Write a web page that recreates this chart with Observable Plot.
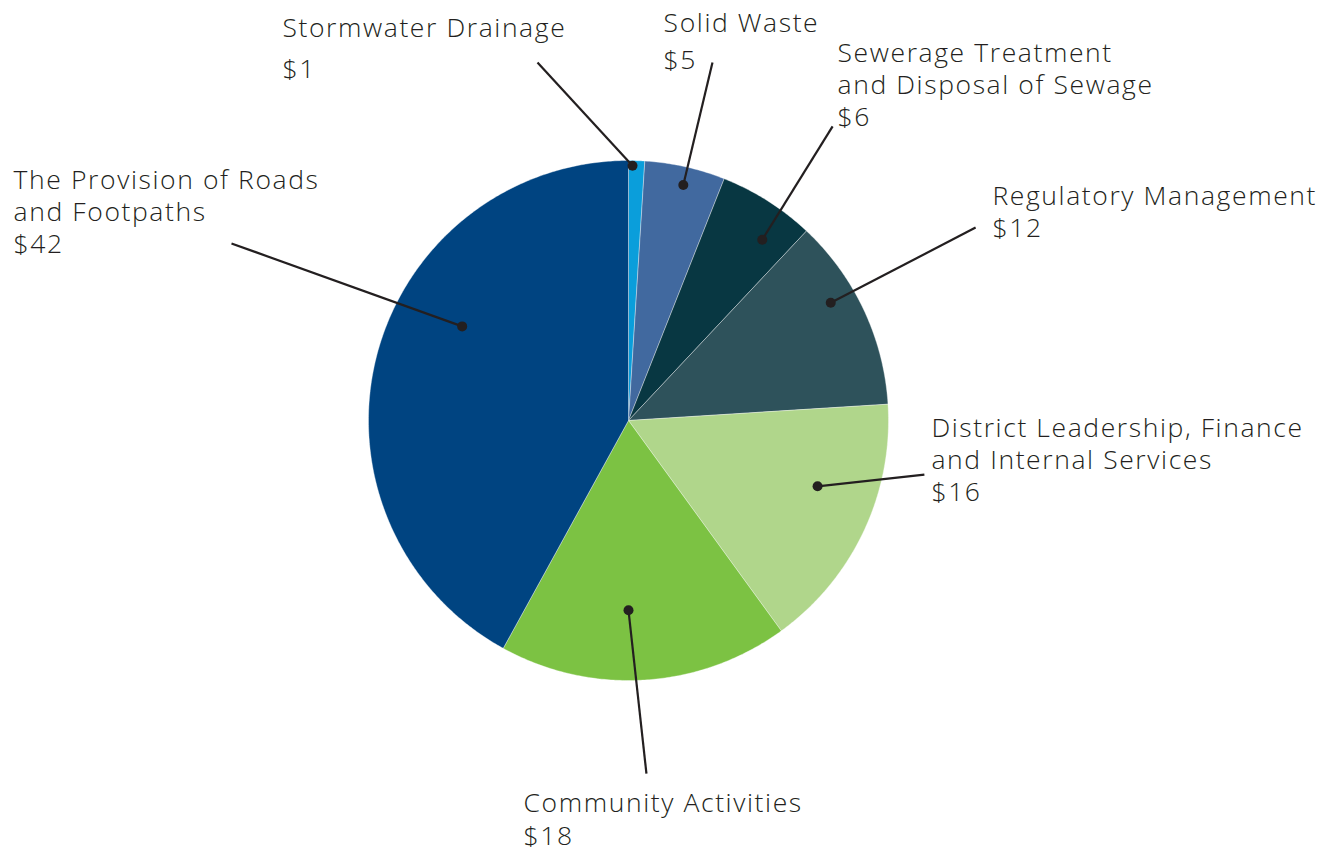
<!DOCTYPE html>
<html>
<head>
<meta charset="utf-8">
<script src="https://cdn.jsdelivr.net/npm/d3@7"></script>
<script src="https://cdn.jsdelivr.net/npm/@observablehq/plot@0.6"></script>
<style>
  html, body { margin: 0; padding: 0; background: #ffffff; }
  #chart svg { display: block; }
  #chart svg text { letter-spacing: 1.6px; }
</style>
</head>
<body>
<div id="chart"></div>
<script>
// ---------- DATA ----------
const categories = [
  "Stormwater Drainage",
  "Solid Waste",
  "Sewerage Treatment and Disposal of Sewage",
  "Regulatory Management",
  "District Leadership, Finance and Internal Services",
  "Community Activities",
  "The Provision of Roads and Footpaths"
];
const values = [1, 5, 6, 12, 16, 18, 42];
const labelLines = [
  ["Stormwater Drainage"],
  ["Solid Waste"],
  ["Sewerage Treatment", "and Disposal of Sewage"],
  ["Regulatory Management"],
  ["District Leadership, Finance", "and Internal Services"],
  ["Community Activities"],
  ["The Provision of Roads", "and Footpaths"]
];
const colors = ["#0a9edb", "#41699f", "#083742", "#2e525b", "#b0d68b", "#7cc243", "#004481"];

// ---------- LAYOUT (in pie-radius units, y up, centre = 0,0) ----------
const W = 1319, H = 847, CX = 628, CY = 420, R = 260;
const fontSize = 26.5, lineStep = 32 / R;
// dot: angle offset from mid-angle (deg) and radius fraction;
// elbow: outer end of leader line; text: left x and first-line y; valueGap: gap before value line
const callouts = [
  {dA: -0.9, dR: 0.98, ex: -0.350, ey: 1.377, tx: -1.331, ty: 1.506, valueGap: 40.5 / R},
  {dA:  0.5, dR: 0.93, ex:  0.323, ey: 1.377, tx:  0.135, ty: 1.527, valueGap: 37 / R},
  {dA:  4.1, dR: 0.865, ex: 0.785, ey: 1.131, tx:  0.804, ty: 1.410, valueGap: lineStep},
  {dA: -5.0, dR: 0.90, ex:  1.335, ey: 0.742, tx:  1.400, ty: 0.862, valueGap: lineStep},
  {dA: -6.0, dR: 0.77, ex:  1.138, ey: -0.208, tx: 1.165, ty: -0.031, valueGap: lineStep},
  {dA:  3.6, dR: 0.73, ex:  0.069, ey: -1.358, tx: -0.404, ty: -1.475, valueGap: 32.5 / R},
  {dA: 15.1, dR: 0.735, ex: -1.527, ey: 0.681, tx: -2.365, ty: 0.923, valueGap: lineStep}
];

// ---------- GEOMETRY from data ----------
const arcs = d3.pie().sort(null).value(d => d)(values);
const slicePts = [];
arcs.forEach((a, i) => {
  const name = categories[i];
  slicePts.push({name, x: 0, y: 0});
  const n = Math.max(4, Math.ceil((a.endAngle - a.startAngle) / (Math.PI / 360)));
  for (let k = 0; k <= n; k++) {
    const t = a.startAngle + (a.endAngle - a.startAngle) * k / n;
    slicePts.push({name, x: Math.sin(t), y: Math.cos(t)});
  }
  slicePts.push({name, x: 0, y: 0});
});

const links = arcs.map((a, i) => {
  const c = callouts[i];
  const mid = (a.startAngle + a.endAngle) / 2 + c.dA * Math.PI / 180;
  return {x1: c.dR * Math.sin(mid), y1: c.dR * Math.cos(mid), x2: c.ex, y2: c.ey};
});

const textRows = [];
labelLines.forEach((lines, i) => {
  const c = callouts[i];
  lines.forEach((t, j) => textRows.push({text: t, x: c.tx, y: c.ty - j * lineStep}));
  textRows.push({text: "$" + values[i], x: c.tx, y: c.ty - (lines.length - 1) * lineStep - c.valueGap});
});

const font = "'Open Sans', 'Noto Sans', sans-serif";

const chart = Plot.plot({
  width: W,
  height: H,
  margin: 0,
  x: {domain: [-CX / R, (W - CX) / R], axis: null},
  y: {domain: [-(H - CY) / R, CY / R], axis: null},
  color: {domain: categories, range: colors},
  style: {fontFamily: font, background: "#ffffff"},
  marks: [
    Plot.line(slicePts, {x: "x", y: "y", z: "name", fill: "name", stroke: "#ffffff", strokeWidth: 0.6, strokeOpacity: 0.6, curve: "linear"}),
    Plot.link(links, {x1: "x1", y1: "y1", x2: "x2", y2: "y2", stroke: "#231f20", strokeWidth: 2.2}),
    Plot.dot(links, {x: "x1", y: "y1", r: 5, fill: "#231f20"}),
    Plot.text(textRows, {x: "x", y: "y", text: "text", textAnchor: "start", lineAnchor: "middle", fontSize, fontWeight: 350, fill: "#231f20", fontFamily: font})
  ]
});
document.getElementById("chart").appendChild(chart);
</script>
</body>
</html>
